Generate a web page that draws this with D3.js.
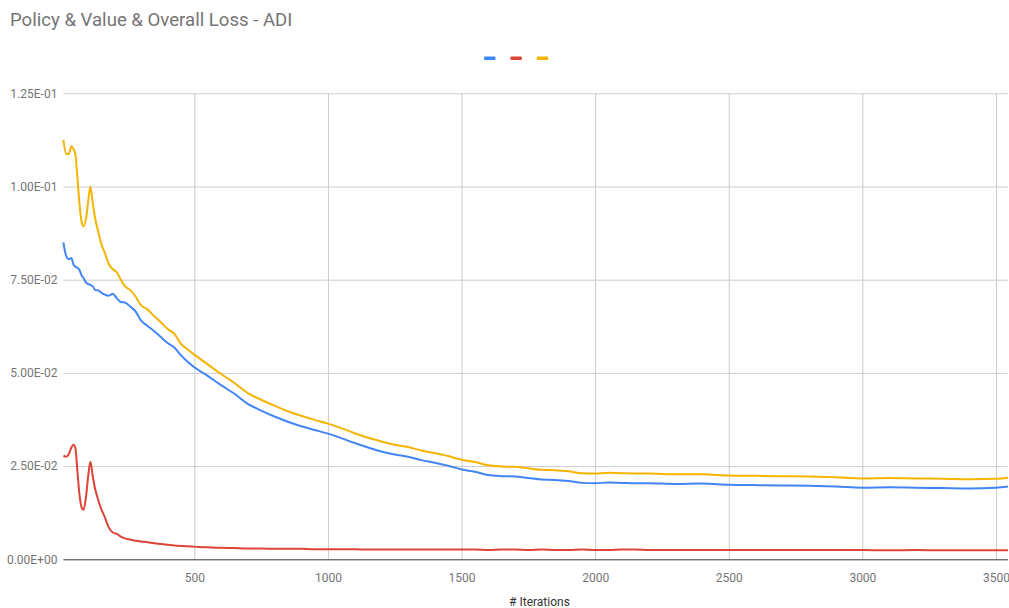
<!DOCTYPE html>
<html>
<head>
<meta charset="utf-8">
<script src="https://cdn.jsdelivr.net/npm/d3@7"></script>
<style>
  body { margin: 0; background: #fff; }
  text { font-family: Roboto, "Noto Sans", sans-serif; }
</style>
</head>
<body>
<svg id="chart"></svg>
<script>
// Iteration numbers (x values)
const iterations = [10, 20, 30, 40, 48, 55, 62, 70, 78, 85, 95, 103, 111, 120, 130, 140, 150, 165, 180, 195,
  210, 225, 240, 260, 280, 300, 325, 350, 375, 400, 425, 450, 475, 500, 550, 600, 650, 700, 750, 800,
  850, 900, 950, 1000, 1050, 1100, 1150, 1200, 1250, 1300, 1350, 1400, 1450, 1500, 1550, 1600, 1650, 1700, 1750, 1800,
  1850, 1900, 1950, 2000, 2050, 2100, 2150, 2200, 2300, 2400, 2500, 2600, 2700, 2800, 2900, 3000, 3100, 3200, 3300, 3400,
  3500, 3545];

// Policy loss (blue)
const policyLoss = [0.0850, 0.0815, 0.0805, 0.0808, 0.0790, 0.0785, 0.0782, 0.0776, 0.0762, 0.0755, 0.0742, 0.0738, 0.0736, 0.0732, 0.0722, 0.0722, 0.0716, 0.0710, 0.0707, 0.0712,
  0.0700, 0.0690, 0.0689, 0.0678, 0.0665, 0.0641, 0.0626, 0.0612, 0.0596, 0.0580, 0.0568, 0.0547, 0.0530, 0.0515, 0.0492, 0.0467, 0.0444, 0.0417, 0.0399, 0.0383,
  0.0369, 0.0357, 0.0347, 0.0337, 0.0325, 0.0312, 0.0300, 0.0289, 0.0281, 0.0275, 0.0266, 0.0259, 0.0251, 0.0241, 0.0235, 0.0226, 0.0223, 0.0222, 0.0218, 0.0214,
  0.0213, 0.0210, 0.0205, 0.0204, 0.0206, 0.0205, 0.0204, 0.0204, 0.0202, 0.0203, 0.0200, 0.0199, 0.0198, 0.0197, 0.0195, 0.0192, 0.0193, 0.0192, 0.0191, 0.0190,
  0.0192, 0.0195];

// Value loss (red)
const valueLoss = [0.0278, 0.0275, 0.0282, 0.0300, 0.0307, 0.0298, 0.0240, 0.0175, 0.0140, 0.0132, 0.0170, 0.0225, 0.0262, 0.0222, 0.0185, 0.0160, 0.0138, 0.0113, 0.0085, 0.0072,
  0.0068, 0.0061, 0.0056, 0.0053, 0.0050, 0.0048, 0.0046, 0.0043, 0.0041, 0.0039, 0.0037, 0.0036, 0.0035, 0.0034, 0.0032, 0.0031, 0.0030, 0.0029, 0.0029, 0.0028,
  0.0028, 0.0028, 0.0027, 0.0027, 0.0027, 0.0027, 0.0026, 0.0026, 0.0026, 0.0026, 0.0026, 0.0026, 0.0026, 0.0026, 0.0026, 0.0025, 0.0026, 0.0026, 0.0025, 0.0026,
  0.0025, 0.0025, 0.0026, 0.0025, 0.0025, 0.0026, 0.0026, 0.0025, 0.0025, 0.0025, 0.0025, 0.0025, 0.0025, 0.0025, 0.0025, 0.0025, 0.0024, 0.0025, 0.0024, 0.0024,
  0.0024, 0.0024];

// Overall loss (yellow)
const overallLoss = [0.1125, 0.1088, 0.1087, 0.1108, 0.1100, 0.1085, 0.1028, 0.0955, 0.0905, 0.0893, 0.0915, 0.0962, 0.1000, 0.0955, 0.0910, 0.0880, 0.0850, 0.0822, 0.0792, 0.0778,
  0.0770, 0.0750, 0.0733, 0.0722, 0.0705, 0.0682, 0.0670, 0.0652, 0.0636, 0.0618, 0.0605, 0.0578, 0.0563, 0.0549, 0.0523, 0.0497, 0.0473, 0.0446, 0.0428, 0.0412,
  0.0397, 0.0385, 0.0374, 0.0364, 0.0352, 0.0338, 0.0326, 0.0316, 0.0307, 0.0301, 0.0292, 0.0285, 0.0277, 0.0267, 0.0261, 0.0252, 0.0249, 0.0248, 0.0244, 0.0240,
  0.0239, 0.0236, 0.0231, 0.0230, 0.0232, 0.0231, 0.0230, 0.0230, 0.0228, 0.0228, 0.0225, 0.0224, 0.0223, 0.0222, 0.0220, 0.0217, 0.0218, 0.0217, 0.0216, 0.0215,
  0.0216, 0.0219];

const seriesColors = ["#4285f4", "#db4437", "#f4b400"];
const xTicks = [500, 1000, 1500, 2000, 2500, 3000, 3500];
const yTicks = [0, 0.025, 0.05, 0.075, 0.1, 0.125];

const width = 1009, height = 608;
const plotLeft = 63.4, plotRight = 1008, plotTop = 93.3, plotBottom = 559.3;

const svg = d3.select("#chart")
  .attr("width", width)
  .attr("height", height);

// Scales
const xScale = d3.scaleLinear().domain([10, 3545]).range([plotLeft, plotRight]);
const yScale = d3.scaleLinear().domain([0, 0.125]).range([plotBottom, plotTop]);

// Scientific format like 1.25E-01
function sci(v) {
  if (v === 0) return "0.00E+00";
  const e = Math.floor(Math.log10(v) + 1e-9);
  const m = v / Math.pow(10, e);
  const sign = e < 0 ? "-" : "+";
  return m.toFixed(2) + "E" + sign + String(Math.abs(e)).padStart(2, "0");
}

// Vertical gridlines + x labels
const xAxis = d3.axisBottom(xScale)
  .tickValues(xTicks)
  .tickSize(-(plotBottom - plotTop))
  .tickFormat(d3.format("d"));

const gx = svg.append("g")
  .attr("transform", "translate(0," + plotBottom + ")")
  .call(xAxis);
gx.select(".domain").remove();
gx.selectAll(".tick line").attr("stroke", "#cccccc");
gx.selectAll(".tick text")
  .attr("fill", "#757575")
  .attr("y", 14)
  .attr("dy", "0.71em")
  .style("font-size", "12px")
  .style("font-family", "Roboto, sans-serif");

// Horizontal gridlines + y labels
const yAxis = d3.axisLeft(yScale)
  .tickValues(yTicks)
  .tickSize(-(plotRight - plotLeft))
  .tickFormat(sci);

const gy = svg.append("g")
  .attr("transform", "translate(" + plotLeft + ",0)")
  .call(yAxis);
gy.select(".domain").remove();
gy.selectAll(".tick line")
  .attr("stroke", d => d === 0 ? "#333" : "#cccccc")
  .attr("stroke-width", 1);
gy.selectAll(".tick text")
  .attr("fill", "#757575")
  .attr("x", -6)
  .style("font-size", "12px")
  .style("font-family", "Roboto, sans-serif");

// Title
svg.append("text")
  .attr("x", 10)
  .attr("y", 26)
  .attr("fill", "#757575")
  .style("font-size", "18.6px")
  .text("Policy & Value & Overall Loss - ADI");

// Legend swatches (series have no names)
svg.selectAll(".legend")
  .data(seriesColors)
  .enter().append("rect")
  .attr("class", "legend")
  .attr("x", (d, i) => 484 + i * 26.4)
  .attr("y", 56.5)
  .attr("width", 11.5)
  .attr("height", 3.6)
  .attr("rx", 1)
  .attr("fill", d => d);

// X axis title
svg.append("text")
  .attr("x", 539.5)
  .attr("y", 606)
  .attr("text-anchor", "middle")
  .attr("fill", "#333")
  .style("font-size", "12px")
  .text("# Iterations");

// Lines
const allSeries = [policyLoss, valueLoss, overallLoss];
const line = d3.line()
  .x((d, i) => xScale(iterations[i]))
  .y(d => yScale(d))
  .curve(d3.curveMonotoneX);

svg.selectAll(".series")
  .data(allSeries)
  .enter().append("path")
  .attr("class", "series")
  .attr("fill", "none")
  .attr("stroke", (d, i) => seriesColors[i])
  .attr("stroke-width", 2)
  .attr("stroke-linejoin", "round")
  .attr("d", line);
</script>
</body>
</html>
